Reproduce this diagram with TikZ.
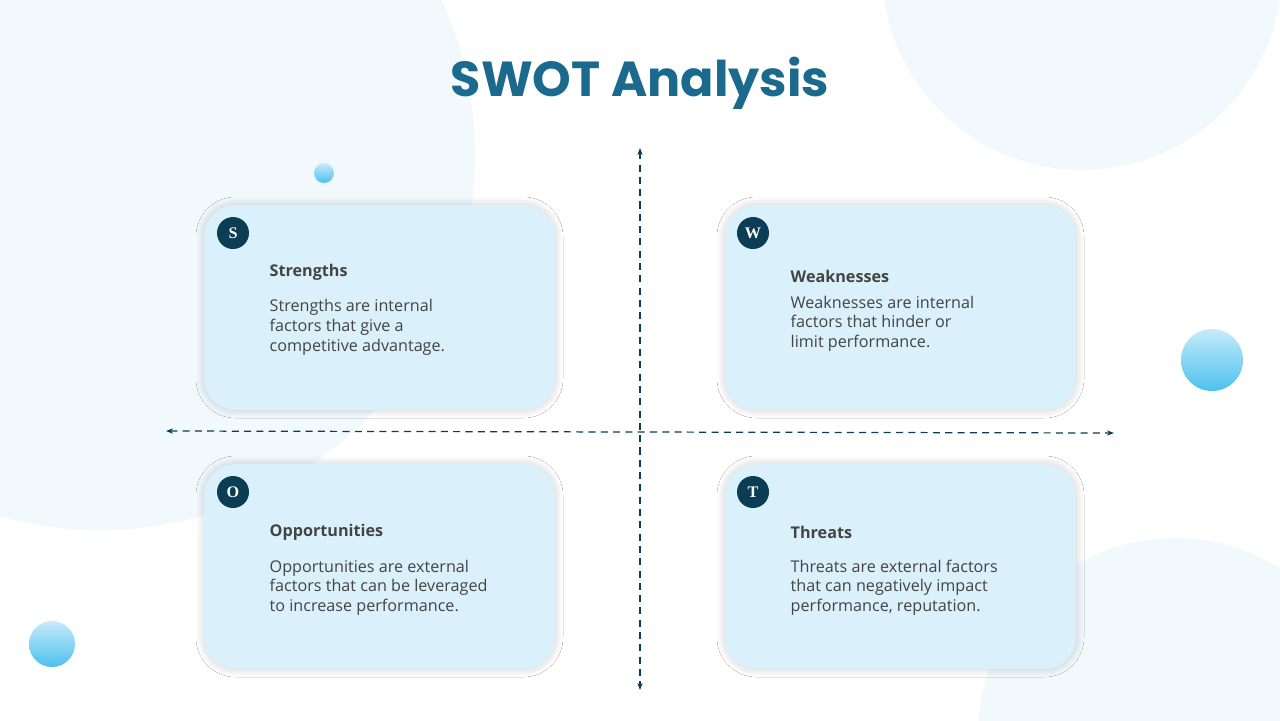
\documentclass[tikz,border=0pt]{standalone}
\usepackage{fontspec}
\setmainfont{Open Sans}
\newfontfamily\titlefont{Poppins}
\newfontfamily\badgefont{Liberation Serif}
\usetikzlibrary{shadows.blur,arrows.meta}
\definecolor{bgblue}{HTML}{F1F9FD}
\definecolor{cardblue}{HTML}{DAF0FA}
\definecolor{navy}{HTML}{0B3D55}
\definecolor{titleblue}{HTML}{1B6A8E}
\definecolor{textgray}{HTML}{444444}
\definecolor{bubblelight}{HTML}{C6EBFA}
\definecolor{bubbledark}{HTML}{4DC0EE}
\begin{document}
\begin{tikzpicture}[x=0.1mm,y=-0.1mm,
        card/.style={
            fill=cardblue, rounded corners=9pt, blur shadow={shadow blur steps=6, shadow blur radius=0.8mm, shadow xshift=0pt, shadow yshift=0pt, shadow opacity=20}
        },
        badge/.style={
            circle, fill=navy, text=white, minimum size=3.2mm, inner sep=0pt, font=\fontsize{4.6}{5}\selectfont\badgefont\bfseries
        },
        heading/.style={
            anchor=west, inner sep=0pt, text=textgray, font=\fontsize{4.6}{6}\selectfont\bfseries
        },
        body/.style={
            anchor=north west, align=left, text=textgray, inner sep=0pt, font=\fontsize{4.6}{5.6}\selectfont
        },
        bubble/.style={
            top color=bubblelight, bottom color=bubbledark, draw=none
        },
        axis/.style={
            draw=navy, dashed, dash pattern=on 2pt off 1.5pt, line width=0.35pt, {Stealth[length=2pt]}-{Stealth[length=2pt]}
        }
    ]
    \useasboundingbox (0,0) rectangle (1280,720);
    \fill[white] (0,0) rectangle (1280,720);
    % background
    \begin{scope}
    \clip (0,0) rectangle (1280,720);
    \fill[bgblue] (100,155) circle (375);
    \fill[bgblue] (1082,-30) circle (200);
    \fill[bgblue] (1175,735) circle (197);
    \end{scope}
    \shade[bubble] (324,173) circle (10);
    \shade[bubble] (1212,360) circle (31);
    \shade[bubble] (52,644) circle (23);

    \node[text=titleblue, font=\fontsize{14}{16}\selectfont\titlefont\bfseries] (title) at (640,83) {SWOT Analysis};

    % axes
    \coordinate (top) at (640,148);
    \coordinate (bottom) at (640,690);
    \coordinate (left) at (166,431);
    \coordinate (right) at (1114,433);
    \draw[axis] (top) -- (bottom);
    \draw[axis] (left) -- (right);

    % cards
    \fill[card] (204,205) rectangle (555,410);
    \fill[card] (725,205) rectangle (1076,410);
    \fill[card] (204,464) rectangle (555,669);
    \fill[card] (725,464) rectangle (1076,669);

    \node[badge] (S) at (233,233) {S};
    \node[badge] (W) at (753,233) {W};
    \node[badge] (O) at (233,492) {O};
    \node[badge] (T) at (753,492) {T};

    \node[heading] (Sh) at (269,272) {Strengths};
    \node[heading] (Wh) at (790,276) {Weaknesses};
    \node[heading] (Oh) at (269,532) {Opportunities};
    \node[heading] (Th) at (790,532) {Threats};

    \node[body] (Sb) at (269,299) {Strengths are internal\\factors that give a\\competitive advantage.};
    \node[body] (Wb) at (790,295) {Weaknesses are internal\\factors that hinder or\\limit performance.};
    \node[body] (Ob) at (269,559) {Opportunities are external\\factors that can be leveraged\\to increase performance.};
    \node[body] (Tb) at (790,559) {Threats are external factors\\that can negatively impact\\performance, reputation.};
\end{tikzpicture}
\end{document}
